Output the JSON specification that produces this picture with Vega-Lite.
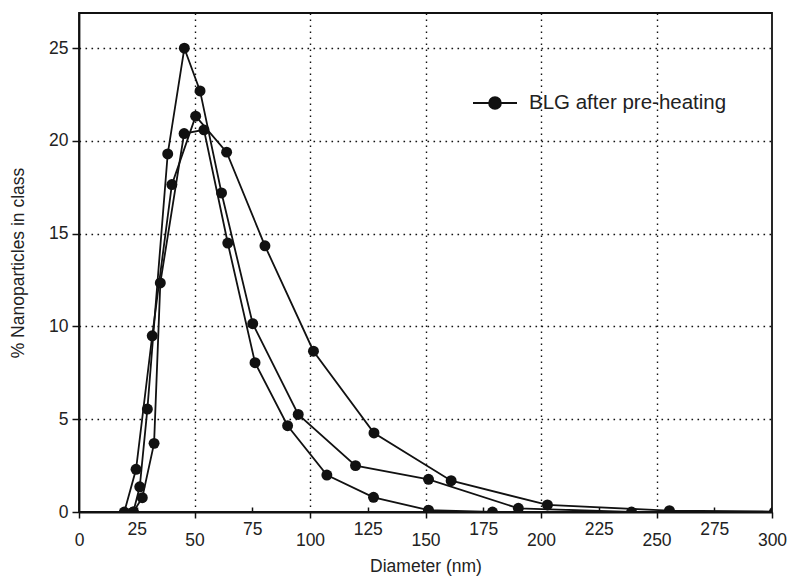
{
  "$schema": "https://vega.github.io/schema/vega-lite/v6.json",
  "width": 693,
  "height": 499,
  "autosize": {"type": "none"},
  "padding": {"left": 79, "top": 13, "right": 20, "bottom": 67},
  "background": "white",
  "config": {
    "view": {"stroke": "#111", "strokeWidth": 1.8},
    "font": "Liberation Sans",
    "axis": {
      "domainColor": "#111",
      "domainWidth": 1.8,
      "tickColor": "#111",
      "tickWidth": 1.5,
      "labelFont": "Liberation Sans",
      "labelFontSize": 17.5,
      "labelColor": "#222",
      "titleFont": "Liberation Sans",
      "titleFontSize": 17.5,
      "titleFontWeight": "normal",
      "titleColor": "#222",
      "gridColor": "#111",
      "gridWidth": 1.4,
      "gridDash": [1.6, 4.4]
    }
  },
  "data": {
    "values": [
      {"run": "a", "d": 23.5, "p": 0},
      {"run": "a", "d": 26.3, "p": 1.36},
      {"run": "a", "d": 29.6, "p": 5.55},
      {"run": "a", "d": 38.4, "p": 19.3},
      {"run": "a", "d": 45.6, "p": 25.0},
      {"run": "a", "d": 52.4, "p": 22.7},
      {"run": "a", "d": 61.7, "p": 17.2},
      {"run": "a", "d": 75.2, "p": 10.15},
      {"run": "a", "d": 94.9, "p": 5.26},
      {"run": "a", "d": 119.7, "p": 2.5},
      {"run": "a", "d": 151.3, "p": 1.76},
      {"run": "a", "d": 190.2, "p": 0.2},
      {"run": "a", "d": 239.2, "p": 0},
      {"run": "a", "d": 301, "p": 0},
      {"run": "b", "d": 23.5, "p": 0},
      {"run": "b", "d": 27.4, "p": 0.77},
      {"run": "b", "d": 32.5, "p": 3.7},
      {"run": "b", "d": 35.2, "p": 12.35},
      {"run": "b", "d": 45.5, "p": 20.4},
      {"run": "b", "d": 54.1, "p": 20.6},
      {"run": "b", "d": 64.4, "p": 14.5},
      {"run": "b", "d": 76.2, "p": 8.05},
      {"run": "b", "d": 90.3, "p": 4.65},
      {"run": "b", "d": 107.3, "p": 1.99},
      {"run": "b", "d": 127.5, "p": 0.79},
      {"run": "b", "d": 151.3, "p": 0.1},
      {"run": "b", "d": 179, "p": 0},
      {"run": "c", "d": 19.6, "p": 0},
      {"run": "c", "d": 24.7, "p": 2.3},
      {"run": "c", "d": 31.7, "p": 9.5},
      {"run": "c", "d": 40.2, "p": 17.65},
      {"run": "c", "d": 50.5, "p": 21.34},
      {"run": "c", "d": 63.9, "p": 19.4},
      {"run": "c", "d": 80.5, "p": 14.35},
      {"run": "c", "d": 101.5, "p": 8.67},
      {"run": "c", "d": 127.7, "p": 4.26},
      {"run": "c", "d": 161.1, "p": 1.69},
      {"run": "c", "d": 202.8, "p": 0.38},
      {"run": "c", "d": 255.6, "p": 0.07},
      {"run": "c", "d": 322, "p": 0}
    ]
  },
  "encoding": {
    "x": {
      "field": "d",
      "type": "quantitative",
      "title": "Diameter (nm)",
      "scale": {"domain": [0, 300], "nice": false, "zero": false},
      "axis": {
        "values": [0, 25, 50, 75, 100, 125, 150, 175, 200, 225, 250, 275, 300],
        "labelFlush": false,
        "tickSize": {"condition": {"test": "datum.value % 50 === 0", "value": 6}, "value": -5},
        "gridOpacity": {"condition": {"test": "datum.value % 50 === 0 && datum.value > 0 && datum.value < 300", "value": 1}, "value": 0},
        "labelPadding": 13,
        "titlePadding": 9
      }
    },
    "y": {
      "field": "p",
      "type": "quantitative",
      "title": "% Nanoparticles in class",
      "scale": {"domain": [0, 26.9], "nice": false},
      "axis": {
        "values": [0, 5, 10, 15, 20, 25],
        "labelFlush": false,
        "tickSize": 7,
        "labelPadding": 4,
        "titlePadding": 21,
        "gridOpacity": {"condition": {"test": "datum.value > 0", "value": 1}, "value": 0}
      }
    },
    "detail": {"field": "run"},
    "color": {
      "datum": "BLG after pre-heating",
      "type": "nominal",
      "scale": {"range": ["#111"]},
      "legend": {
        "title": null,
        "orient": "none",
        "legendX": 393,
        "legendY": 67,
        "padding": 0,
        "symbolType": "M-1,0L1,0M-0.27,0A0.27,0.27,0,1,1,0.27,0A0.27,0.27,0,1,1,-0.27,0Z",
        "symbolSize": 1936,
        "symbolFillColor": "#111",
        "symbolStrokeColor": "#111",
        "symbolStrokeWidth": 1.8,
        "labelOffset": 11,
        "labelFontSize": 20.5,
        "labelLimit": 400,
        "labelColor": "#222",
        "labelFont": "Liberation Sans"
      }
    }
  },
  "layer": [
    {"mark": {"type": "line", "strokeWidth": 1.8, "clip": true}},
    {"mark": {"type": "point", "filled": true, "opacity": 1, "size": 120, "clip": true}}
  ]
}
